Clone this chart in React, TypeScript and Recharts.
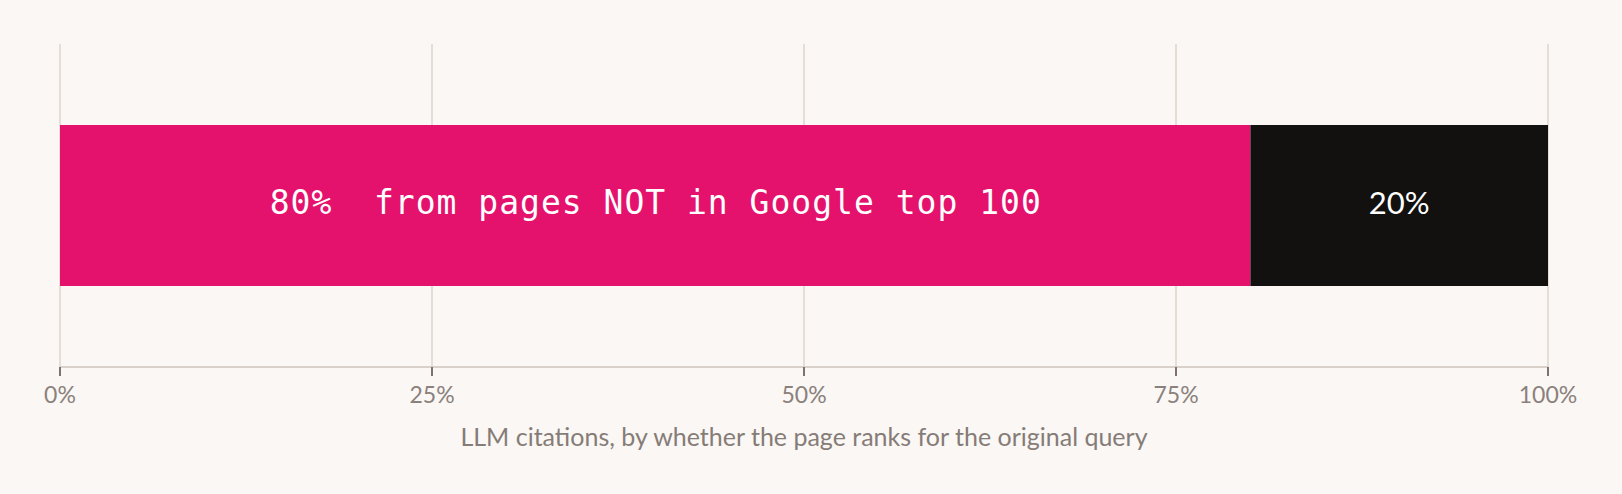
import React from 'react';
import { BarChart, Bar, XAxis, YAxis, CartesianGrid } from 'recharts';

// one stacked bar: share of LLM citations by Google ranking
const categories = ['LLM citations'];
const notInTop100 = [80];
const inTop100 = [20];
const segmentText = ['80%  from pages NOT in Google top 100', '20%'];
const tickValues = [0, 25, 50, 75, 100];
const axisTitle = 'LLM citations, by whether the page ranks for the original query';

const data = categories.map((name, i) => ({
  name,
  notTop: notInTop100[i],
  top: inTop100[i],
}));

const BG = '#faf7f4';
const PINK = '#e5126d';
const INK = '#12110f';

const PercentTick = (props: any) => {
  const { x, y, payload } = props;
  return (
    <text x={x} y={y + 27} textAnchor="middle" fill="#8b817c" fontSize={23} fontFamily="Lato">
      {payload.value}%
    </text>
  );
};

const segmentLabel = (seg: number, font: string, size: number, spacing = 0) => (props: any) => {
  const { x, y, width, height } = props;
  return (
    <text
      x={x + width / 2 + spacing / 2}
      y={y + height / 2 + 8}
      textAnchor="middle"
      fill="#ffffff"
      fontSize={size}
      fontFamily={font}
      letterSpacing={spacing}
      style={{ whiteSpace: 'pre' }}
    >
      {segmentText[seg]}
    </text>
  );
};

export default function App() {
  return (
    <div style={{ position: 'fixed', left: 0, top: 0, width: 1622, height: 494, background: BG }}>
      <BarChart
        width={1622}
        height={494}
        data={data}
        layout="vertical"
        margin={{ top: 44, right: 74, bottom: 0, left: 60 }}
      >
        <CartesianGrid horizontal={false} stroke="#ddd6ce" strokeWidth={1.5} />
        <XAxis
          type="number"
          domain={[0, 100]}
          ticks={tickValues}
          height={127}
          tickSize={9}
          tickMargin={0}
          axisLine={{ stroke: '#d9d1c9', strokeWidth: 2 }}
          tickLine={{ stroke: '#7d736e', strokeWidth: 2 }}
          tick={<PercentTick />}
          interval={0}
          label={{
            content: ({ viewBox }: any) => (
              <text
                x={viewBox.x + viewBox.width / 2}
                y={viewBox.y + 79}
                textAnchor="middle"
                fill="#867c77"
                fontSize={25}
                fontFamily="Lato"
              >
                {axisTitle}
              </text>
            ),
          }}
        />
        <YAxis type="category" dataKey="name" hide />
        <Bar
          dataKey="notTop"
          stackId="a"
          fill={PINK}
          barSize={161}
          isAnimationActive={false}
          label={segmentLabel(0, '"DejaVu Sans Mono", monospace', 33, 1)}
        />
        <Bar
          dataKey="top"
          stackId="a"
          fill={INK}
          barSize={161}
          isAnimationActive={false}
          label={segmentLabel(1, 'Lato', 31)}
        />
      </BarChart>
    </div>
  );
}
